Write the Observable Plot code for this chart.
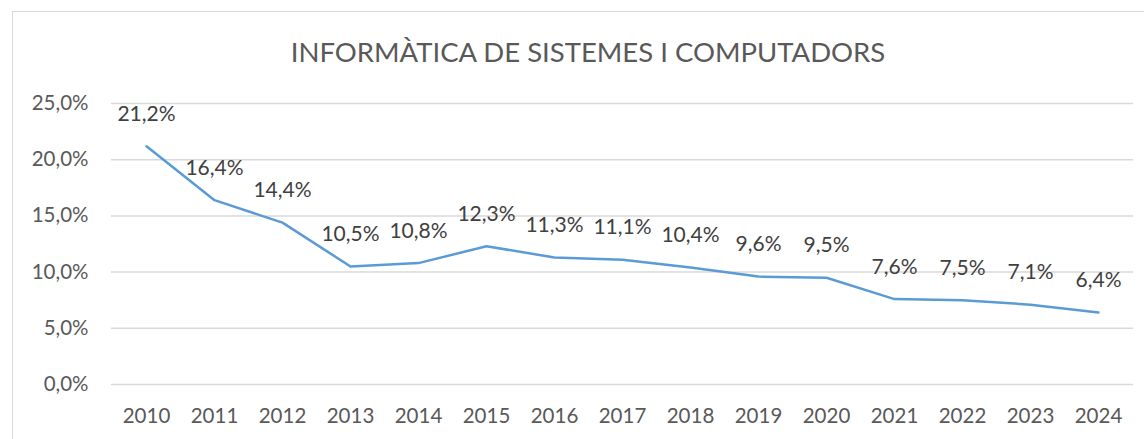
<!DOCTYPE html>
<html>
<head>
<meta charset="utf-8">
<script src="https://cdn.jsdelivr.net/npm/d3@7"></script>
<script src="https://cdn.jsdelivr.net/npm/@observablehq/plot@0.6"></script>
<style>
  html, body { margin: 0; padding: 0; background: #fff; overflow: hidden; }
  #wrap { position: relative; width: 1144px; height: 439px; overflow: hidden; font-family: Lato, "Open Sans", sans-serif; }
  #frame { position: absolute; left: 12px; top: 11px; width: 1200px; height: 500px; border: 1.5px solid #d9d9d9; box-sizing: border-box; }
  #title { position: absolute; left: 0; top: 0; width: 1176px; height: 80px; text-align: center; font-size: 27.5px; line-height: 28px; padding-top: 38px; box-sizing: border-box; color: #595959; }
  #chart { position: absolute; left: 0; top: 80px; }
</style>
</head>
<body>
<div id="wrap">
  <div id="frame"></div>
  <div id="title">INFORMÀTICA DE SISTEMES I COMPUTADORS</div>
  <div id="chart"></div>
</div>
<script>
const years = ["2010","2011","2012","2013","2014","2015","2016","2017","2018","2019","2020","2021","2022","2023","2024"];
const values = [21.2, 16.4, 14.4, 10.5, 10.8, 12.3, 11.3, 11.1, 10.4, 9.6, 9.5, 7.6, 7.5, 7.1, 6.4];
const yTicks = [0, 5, 10, 15, 20, 25];

const data = years.map((y, i) => ({year: y, value: values[i]}));
const fmt1 = d => d.toFixed(1).replace(".", ",") + "%";

const chart = Plot.plot({
  width: 1144,
  height: 359,
  marginTop: 23,
  marginBottom: 55,
  marginLeft: 111,
  marginRight: 11,
  style: {fontFamily: "Lato, 'Open Sans', sans-serif", fontSize: "20.5px", color: "#595959", background: "transparent", overflow: "visible"},
  x: {type: "point", domain: years, padding: 0.5, label: null},
  y: {domain: [0, 25], label: null},
  marks: [
    Plot.ruleY(yTicks, {stroke: "#d9d9d9", strokeWidth: 1.5}),
    Plot.axisY({ticks: yTicks, tickFormat: fmt1, tickSize: 0, tickPadding: 23, label: null, fontSize: 20.5}),
    Plot.axisX({tickSize: 0, tickPadding: 24, label: null, fontSize: 20.5}),
    Plot.lineY(data, {x: "year", y: "value", stroke: "#5B9BD5", strokeWidth: 2.5}),
    Plot.text(data, {x: "year", y: "value", text: d => fmt1(d.value), dy: -32, fill: "#404040", fontSize: 21})
  ]
});
document.getElementById("chart").appendChild(chart);
</script>
</body>
</html>
